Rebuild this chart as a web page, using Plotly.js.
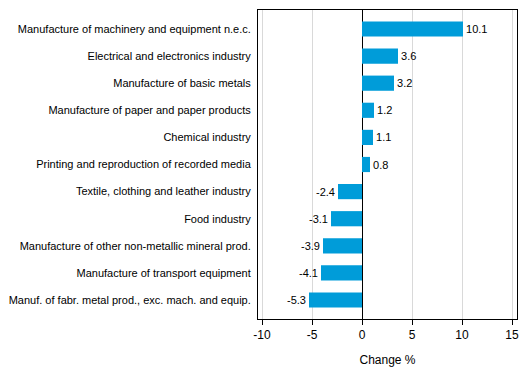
<!DOCTYPE html>
<html><head><meta charset="utf-8">
<script src="https://cdn.plot.ly/plotly-3.0.1.min.js"></script>
<style>html,body{margin:0;padding:0;background:#fff}#c{width:529px;height:378px}</style>
</head><body><div id="c"></div>
<script>
var categories = [
  "Manufacture of machinery and equipment n.e.c.",
  "Electrical and electronics industry",
  "Manufacture of basic metals",
  "Manufacture of paper and paper products",
  "Chemical industry",
  "Printing and reproduction of recorded media",
  "Textile, clothing and leather industry",
  "Food industry",
  "Manufacture of other non-metallic mineral prod.",
  "Manufacture of transport equipment",
  "Manuf. of fabr. metal prod., exc. mach. and equip."
];
var values = [10.1, 3.6, 3.2, 1.2, 1.1, 0.8, -2.4, -3.1, -3.9, -4.1, -5.3];
var tickVals = [-10, -5, 0, 5, 10, 15];
var tickText = ["-10", "-5", "0", "5", "10", "15"];

var trace = {
  type: "bar", orientation: "h",
  y: categories, x: values,
  marker: {color: "#009CD9"},
  text: values.map(function(v){return v.toFixed(1);}),
  textposition: "outside",
  textfont: {family: "Liberation Sans, Arial, sans-serif", size: 11, color: "#000"},
  cliponaxis: false,
  hoverinfo: "none"
};
var layout = {
  width: 529, height: 378,
  margin: {l: 258, r: 12, t: 10, b: 59},
  paper_bgcolor: "#fff", plot_bgcolor: "#fff",
  bargap: 0.44,
  showlegend: false,
  font: {family: "Liberation Sans, Arial, sans-serif", size: 11, color: "#000"},
  xaxis: {
    range: [-10.4, 15.5],
    tickvals: tickVals, ticktext: tickText,
    tickfont: {size: 12},
    ticks: "outside", ticklen: 5, tickcolor: "#000",
    showgrid: true, gridcolor: "#d9d9d9", gridwidth: 1,
    zeroline: true, zerolinecolor: "#000", zerolinewidth: 1,
    showline: true, linecolor: "#000", linewidth: 1, mirror: true,
    title: {text: "Change %", font: {size: 12}, standoff: 14}
  },
  yaxis: {
    type: "category",
    range: [10.7, -0.7],
    showline: true, linecolor: "#000", linewidth: 1, mirror: true,
    ticks: "", ticklen: 0,
    ticklabelstandoff: 4,
    tickfont: {size: 11},
    showgrid: false
  }
};
Plotly.newPlot("c", [trace], layout, {displayModeBar: false, staticPlot: true});
</script></body></html>
